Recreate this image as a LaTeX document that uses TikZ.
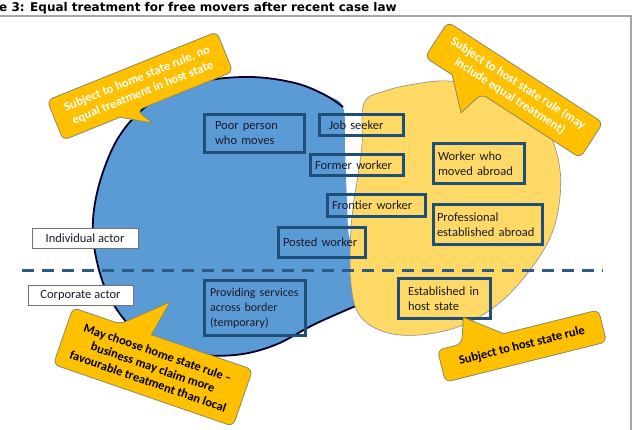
\documentclass[tikz,border=0pt]{standalone}
\usepackage{fontspec}
\setmainfont{Carlito}
\newfontfamily\titlefont{DejaVu Sans}
\definecolor{blobblue}{HTML}{5B9BD5}
\definecolor{blobyellow}{HTML}{FFD966}
\definecolor{calloutfill}{HTML}{FFC000}
\definecolor{calloutline}{HTML}{8A8A60}
\definecolor{boxblue}{HTML}{1F4E79}
\definecolor{dashblue}{HTML}{2E5A88}
\definecolor{framegray}{HTML}{A6A6A6}
\definecolor{textdark}{HTML}{1A1A2A}
\begin{document}
\begin{tikzpicture}[x=1pt,y=-1pt,
  callout/.style={fill=calloutfill, draw=calloutline, line width=0.8pt, rounded corners=6pt},
  callouttext/.style={align=center, inner sep=0pt, transform shape, font=\fontsize{12.5}{15}\selectfont\bfseries},
  bx/.style={draw=boxblue, line width=3pt, align=left, inner ysep=0pt, text=textdark, font=\fontsize{12.5}{15}\selectfont},
  actor/.style={draw=black!55, line width=0.9pt, fill=white, inner sep=0pt, text=textdark, font=\fontsize{12.5}{15}\selectfont}]
\useasboundingbox (0,0) rectangle (639,430);
\fill[white] (0,0) rectangle (639,430);
% frame
\coordinate (ftl) at (-2,16);
\coordinate (ftr) at (631,16);
\coordinate (fbr) at (631,432);
\draw[framegray, line width=1.2pt] (ftl) -- (ftr) -- (fbr);
% title
\node[anchor=base west, inner sep=0pt, font=\titlefont\bfseries\fontsize{12}{14}\selectfont] (title) at (-1,12) {e 3: Equal treatment for free movers after recent case law};
% blue blob
\fill[blobblue] plot[smooth cycle, tension=0.6] coordinates {(343,107) (325,95) (295,83) (250,77) (200,82) (155,100) (122,132) (102,175) (93,220) (97,262) (112,302) (142,336) (190,353) (235,355) (275,345) (315,324) (358,305) (378,290) (365,258) (350,240) (347,200) (345,150)};
\draw[black!85!blue, line width=1.8pt] plot[smooth, tension=0.6] coordinates {(343,107) (325,95) (295,83) (250,77) (200,82) (155,100) (122,132) (102,175) (93,220) (97,262) (112,302) (142,336) (190,353) (235,355) (275,345) (315,324) (358,305)};
% yellow blob
\filldraw[fill=blobyellow, draw=black!45, line width=0.6pt] plot[smooth cycle, tension=0.6] coordinates {(364,103) (385,91) (415,84) (448,81) (490,88) (528,108) (550,135) (560,170) (559,205) (550,238) (530,270) (503,300) (470,322) (435,333) (400,335) (373,327) (357,311) (351,285) (350,255) (351,228) (354,200) (358,175) (362,145)};
% dashed divider
\coordinate (dl) at (22,270);
\coordinate (dr) at (603,270);
\draw[dashblue, line width=3pt, dash pattern=on 12pt off 8pt] (dl) -- (dr);
% boxes
\node[bx, text width=79pt, inner xsep=10.5pt, minimum height=38pt] (poor) at (254.5,133.5) {Poor person\\who moves};
\node[bx, text width=65pt, inner xsep=9.5pt, minimum height=21pt] (job) at (361.5,125) {Job seeker};
\node[bx, text width=84pt, inner xsep=4.5pt, minimum height=21pt] (former) at (357,165) {Former worker};
\node[bx, text width=89pt, inner xsep=4.5pt, minimum height=22pt] (frontier) at (376.5,205.5) {Frontier worker};
\node[bx, text width=78pt, inner xsep=4.5pt, minimum height=30pt] (posted) at (322,242.5) {Posted worker};
\node[bx, text width=82pt, inner xsep=4.5pt, minimum height=40pt] (wabroad) at (479,163.5) {Worker who\\moved abroad};
\node[bx, text width=102pt, inner xsep=3.5pt, minimum height=40pt] (prof) at (488,224.5) {Professional\\established abroad};
\node[bx, text width=73pt, inner xsep=9.5pt, minimum height=40pt] (estab) at (444.5,298.5) {Established in\\host state};
\node[bx, text width=90pt, inner xsep=5.5pt, minimum height=55pt, font=\fontsize{12}{15}\selectfont] (prov) at (255,308) {Providing services\\across border\\(temporary)};
% actor labels
\node[actor, minimum width=106pt, minimum height=20pt] (ind) at (85,238) {Individual actor};
\node[actor, minimum width=105pt, minimum height=20pt] (corp) at (80.5,295) {Corporate actor};
% callout 1
\begin{scope}[shift={(140,86)}, rotate=22]
\draw[callout] (-91.5,-21.5) -- (91.5,-21.5) -- (91.5,21.5) -- (-12,21.5) [sharp corners] -- (-2.5,39) -- (-30,21.5) [rounded corners=6pt] -- (-91.5,21.5) -- cycle;
\node[callouttext, text=white] (c1) at (0,0) {Subject to home state rule, no\\equal treatment in host state};
\end{scope}
% callout 2
\begin{scope}[shift={(514,90)}, rotate=-33]
\draw[callout] (-92.5,-21) -- (92.5,-21) -- (92.5,21) -- (-25,21) [sharp corners] -- (-32,48) -- (-60,21) [rounded corners=6pt] -- (-92.5,21) -- cycle;
\node[callouttext, text=white] (c2) at (0,0) {Subject to host state rule (may\\include equal treatment)};
\end{scope}
% callout 3
\begin{scope}[shift={(153,367)}, rotate=-19]
\draw[callout] (-95,-30) -- (-45,-30) [sharp corners] -- (-5,-67) -- (-12,-30) [rounded corners=6pt] -- (95,-30) -- (95,30) -- (-95,30) -- cycle;
\node[callouttext, text=black] (c3) at (0,0) {May choose home state rule --\\business may claim more\\favourable treatment than local};
\end{scope}
% callout 4
\begin{scope}[shift={(522,346)}, rotate=14]
\draw[callout] (-83,-16.5) -- (-58,-16.5) [sharp corners] -- (-50,-42) -- (-15,-16.5) [rounded corners=6pt] -- (83,-16.5) -- (83,16.5) -- (-83,16.5) -- cycle;
\node[callouttext, text=black] (c4) at (0,0) {Subject to host state rule};
\end{scope}
\end{tikzpicture}
\end{document}
